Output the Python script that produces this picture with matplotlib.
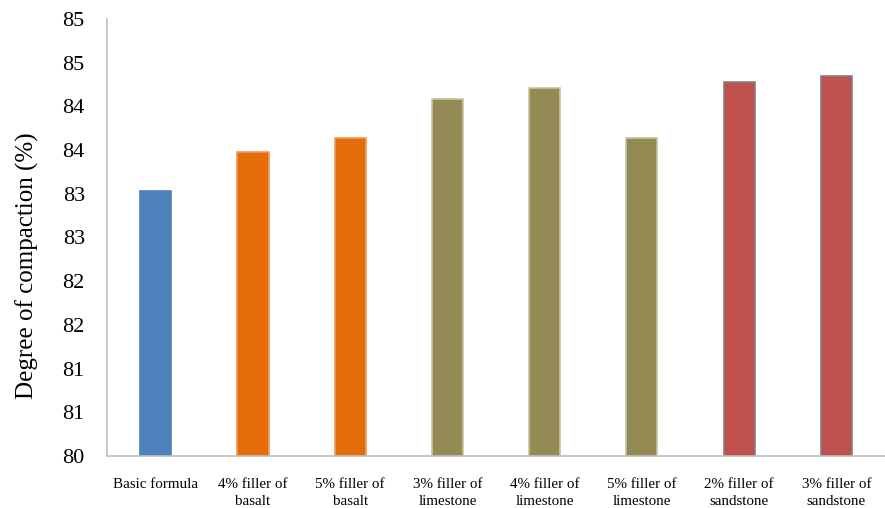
import numpy as np
import matplotlib.pyplot as plt
from matplotlib.ticker import FuncFormatter, MultipleLocator

categories = ["Basic formula", "4% filler of\nbasalt", "5% filler of\nbasalt",
              "3% filler of\nlimestone", "4% filler of\nlimestone", "5% filler of\nlimestone",
              "2% filler of\nsandstone", "3% filler of\nsandstone"]
compaction = [83.03, 83.48, 83.635, 84.085, 84.21, 83.635, 84.28, 84.35]
bar_colors = ["#4F81BD", "#E46C0A", "#E46C0A", "#948A54", "#948A54", "#948A54", "#C0504D", "#C0504D"]
edge_colors = ["#4F81BD", "#F39A5A", "#F39A5A", "#C9C2A0", "#C9C2A0", "#C9C2A0", "#808080", "#808080"]

plt.rcParams['font.family'] = ['Liberation Serif', 'DejaVu Serif']

fig = plt.figure(figsize=(8.85, 5.08), dpi=100)
ax = fig.add_axes([0.121, 0.1024, 0.879, 0.8602])

x = np.arange(len(categories))
ax.bar(x, compaction, width=0.32, color=bar_colors, edgecolor=edge_colors, linewidth=1.2)

ax.set_xlim(-0.5, len(categories) - 0.5)
ax.set_ylim(80, 85)
ax.yaxis.set_major_locator(MultipleLocator(0.5))
# whole-number labels, rounding halves up
ax.yaxis.set_major_formatter(FuncFormatter(lambda v, p: f"{int(np.floor(v + 0.5))}"))

ax.set_xticks(x)
ax.set_xticklabels(categories, fontsize=10.8, linespacing=1.4)
ax.tick_params(axis='x', length=0, pad=16)
ax.tick_params(axis='y', length=0, pad=16, labelsize=16)

ax.set_ylabel("Degree of compaction (%)", fontsize=18)
ax.yaxis.set_label_coords(-0.088, 0.435)

for side in ("top", "right"):
    ax.spines[side].set_visible(False)
for side in ("left", "bottom"):
    ax.spines[side].set_color("#BFBFBF")
    ax.spines[side].set_linewidth(1.2)

fig.savefig("out.png", dpi=100)
